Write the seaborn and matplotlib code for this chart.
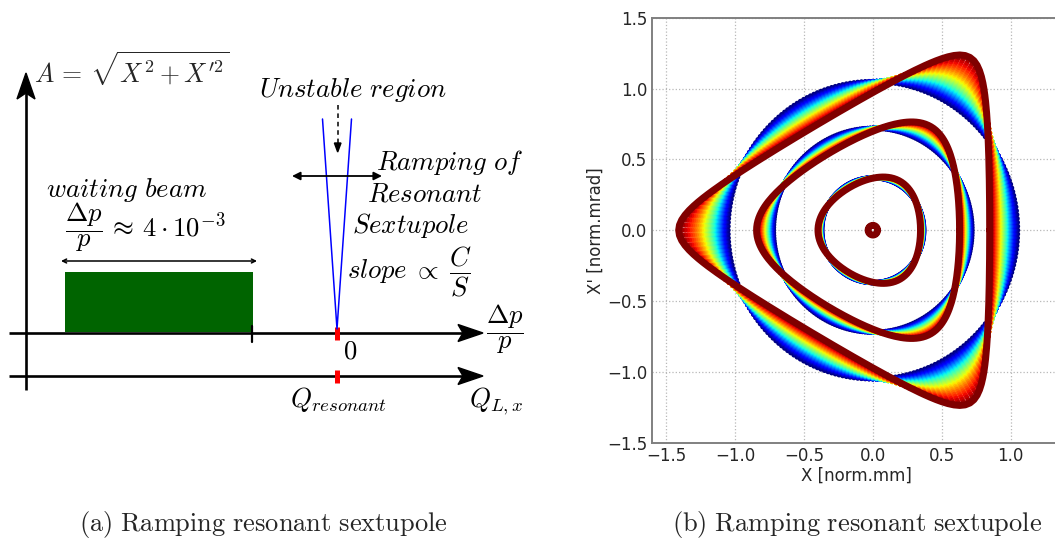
import numpy as np
import pandas as pd
import matplotlib
matplotlib.use("Agg")
import matplotlib.pyplot as plt
import seaborn as sns
from matplotlib.patches import Polygon, Rectangle

# ---------------- data: right panel (phase space) ----------------
ring_radii = [0.034, 0.37, 0.72, 1.05]      # unperturbed amplitudes (blue circles)
sextupole_final = 0.372                       # final normalised sextupole strength
ramp_shape = 0.8                              # ramp profile exponent (strength vs. time)
n_ramp_steps = 30                             # number of ramp snapshots
n_points = 240                                # particles per ring
x_ticks = [-1.5, -1.0, -0.5, 0.0, 0.5, 1.0]
y_ticks = [-1.5, -1.0, -0.5, 0.0, 0.5, 1.0, 1.5]
x_label = "X [norm.mm]"
y_label = "X' [norm.mrad]"
caption_a = r"$\mathrm{(a)\ Ramping\ resonant\ sextupole}$"
caption_b = r"$\mathrm{(b)\ Ramping\ resonant\ sextupole}$"

# ---------------- data: left panel (schematic, diagram units) ----------------
dp_axis_y = 333
q_axis_y = 376
axis_x = (9, 483)
vert_axis_x = 26
vert_axis_y = (390, 73)
beam_x = (65, 253)
beam_top = 272
beam_tick_x = 252
resonance_x = 337
unstable_top = 119
unstable_halfwidth = 14.5


def level_radius(u, c, h):
    """smallest positive root of r^2 + c*u*r^3 = h (Kobayashi invariant)"""
    cu = c * u
    hi = np.where(cu < 0, 2.0 / (3.0 * np.maximum(-cu, 1e-9)), np.sqrt(h) * np.ones_like(cu))
    hi = np.minimum(hi, 10.0)
    lo = np.zeros_like(hi)
    for _ in range(45):
        mid = 0.5 * (lo + hi)
        below = mid ** 2 + cu * mid ** 3 < h
        lo = np.where(below, mid, lo)
        hi = np.where(below, hi, mid)
    return 0.5 * (lo + hi)


def ring_family(r0, strengths, theta):
    u = np.cos(3 * theta)[None, :]
    c = strengths[:, None]
    hsep = np.where(c > 0, 4.0 / (27.0 * np.maximum(c, 1e-9) ** 2), 1e9)
    lo = np.zeros_like(c)
    hi = np.minimum(hsep * (1 - 1e-9), r0 ** 2)
    for _ in range(40):
        mid = 0.5 * (lo + hi)
        r = level_radius(u, c, mid)
        small = (r ** 2).mean(axis=1, keepdims=True) < r0 ** 2
        lo = np.where(small, mid, lo)
        hi = np.where(small, hi, mid)
    return level_radius(u, c, 0.5 * (lo + hi))


theta = np.linspace(0, 2 * np.pi, n_points, endpoint=False)
strengths = sextupole_final * np.linspace(0, 1, n_ramp_steps + 1) ** ramp_shape

frames = []
finals = []
for r0 in ring_radii:
    R = ring_family(r0, strengths, theta)
    for k in range(n_ramp_steps):
        frames.append(pd.DataFrame({"X": R[k] * np.cos(theta),
                                    "Xp": R[k] * np.sin(theta),
                                    "step": k}))
    finals.append((R[-1] * np.cos(theta), R[-1] * np.sin(theta)))
df = pd.concat(frames).sort_values("step", kind="stable")

# ---------------- figure ----------------
sns.set_style("white")
plt.rcParams["mathtext.fontset"] = "cm"
plt.rcParams["font.family"] = ["DejaVu Sans"]

W, H = 1055, 542
fig = plt.figure(figsize=(W / 100, H / 100), dpi=100)

# ---- left schematic ----
ax0 = fig.add_axes([0, 0, 545 / W, 1])
ax0.set_xlim(0, 545)
ax0.set_ylim(H, 0)
ax0.axis("off")

lw_axis = 1.9
for yy in (dp_axis_y, q_axis_y):
    ax0.plot([axis_x[0], axis_x[1] - 20], [yy, yy], color="black", lw=lw_axis, solid_capstyle="butt")
    ax0.add_patch(Polygon([[axis_x[1], yy], [axis_x[1] - 25, yy - 8.5], [axis_x[1] - 20, yy],
                           [axis_x[1] - 25, yy + 8.5]], closed=True, color="black"))
ax0.plot([vert_axis_x, vert_axis_x], [vert_axis_y[0], vert_axis_y[1] + 20], color="black", lw=lw_axis,
         solid_capstyle="butt")
ax0.add_patch(Polygon([[vert_axis_x, vert_axis_y[1]], [vert_axis_x - 9, vert_axis_y[1] + 26],
                       [vert_axis_x, vert_axis_y[1] + 20], [vert_axis_x + 9, vert_axis_y[1] + 26]],
                      closed=True, color="black"))

# beam
ax0.add_patch(Rectangle((beam_x[0], beam_top), beam_x[1] - beam_x[0], dp_axis_y - 1.5 - beam_top,
                        facecolor="#006400", edgecolor="none"))
ax0.plot([beam_tick_x, beam_tick_x], [dp_axis_y - 7, dp_axis_y + 9], color="black", lw=1.6)
ax0.annotate("", xy=(beam_x[0] - 4, 261), xytext=(beam_x[1] + 4, 261),
             arrowprops=dict(arrowstyle="<->", color="black", lw=1.1, mutation_scale=7,
                             shrinkA=0, shrinkB=0))

# resonance marks
for yy in (dp_axis_y, q_axis_y):
    ax0.plot([resonance_x, resonance_x], [yy - 6, yy + 7], color="red", lw=3.6, solid_capstyle="butt")

# unstable region (blue lines)
ax0.plot([resonance_x - unstable_halfwidth, resonance_x, resonance_x + unstable_halfwidth],
         [unstable_top, dp_axis_y - 4, unstable_top], color="blue", lw=1.1)

# dashed arrow
ax0.plot([resonance_x + 0.7, resonance_x + 0.7], [105, 144], color="black", lw=1.1, ls=(0, (3, 2.5)))
ax0.add_patch(Polygon([[resonance_x + 0.7, 152], [resonance_x - 2.6, 143], [resonance_x + 4, 143]],
                      closed=True, color="black"))

# ramping double arrow
ax0.annotate("", xy=(292, 176), xytext=(382, 176),
             arrowprops=dict(arrowstyle="<|-|>", color="black", lw=1.3, mutation_scale=12,
                             shrinkA=0, shrinkB=0))

fs = 19.3
tkw = dict(fontsize=fs, ha="left", va="baseline", color="black")
ax0.text(34, 83.5, r"$A\,=\,\sqrt{X^2+X^{\prime 2}}$", fontsize=18.6, ha="left", va="baseline")
ax0.text(259, 96.5, r"$Unstable\ region$", **tkw)
ax0.text(376, 170, r"$Ramping\ of$", **tkw)
ax0.text(367, 201.5, r"$Resonant$", **tkw)
ax0.text(352, 233.5, r"$Sextupole$", **tkw)
ax0.text(347, 278, r"$slope\;\propto\;\dfrac{C}{S}$", **tkw)
ax0.text(46, 196.5, r"$waiting\ beam$", **tkw)
ax0.text(65, 237, r"$\dfrac{\Delta p}{p}\,\approx\,4\cdot 10^{-3}$", **tkw)
ax0.text(343, 358.5, r"$0$", **tkw)
ax0.text(486, 339, r"$\dfrac{\Delta p}{p}$", **tkw)
ax0.text(290, 406.5, r"$Q_{resonant}$", **tkw)
ax0.text(469, 406.5, r"$Q_{L,x}$", **tkw)

# ---- right phase-space plot ----
left, right, top, bottom = 651.7, 1055 + 6, 17.7, 442.7
ax = fig.add_axes([left / W, 1 - bottom / H, (right - left) / W, (bottom - top) / H])
xmin, xmax = -1.604, 1.0 + (right - 1010.7) / 137.9
ax.set_xlim(xmin, xmax)
ax.set_ylim(-1.5, 1.5)
ax.set_axisbelow(True)
ax.grid(True, color="#b8b8b8", ls=":", lw=0.9)

jet = plt.get_cmap("jet")
sns.scatterplot(data=df, x="X", y="Xp", hue="step", palette=jet, hue_norm=(0, n_ramp_steps),
                s=14, linewidth=0, legend=False, ax=ax, zorder=3)
final_color = jet(1.0)
for fx, fy in finals:
    ax.plot(np.append(fx, fx[0]), np.append(fy, fy[0]), color=final_color, lw=5.0, zorder=4,
            solid_joinstyle="round")

ax.set_xticks(x_ticks)
ax.set_yticks(y_ticks)
ax.set_xticklabels([f"{v:.1f}".replace("-", "\u2212") for v in x_ticks])
ax.set_yticklabels([f"{v:.1f}".replace("-", "\u2212") for v in y_ticks])
ax.tick_params(direction="in", length=4, width=1, color="#808080", labelsize=12, pad=3)
for side in ("left", "bottom", "top"):
    ax.spines[side].set_color("#808080")
    ax.spines[side].set_linewidth(1.4)
ax.spines["right"].set_visible(False)
ax.set_xlabel(x_label, fontsize=12, labelpad=1)
ax.set_ylabel(y_label, fontsize=12, labelpad=2)

fig.text(263.5 / W, 1 - 531.5 / H, caption_a, ha="center", va="baseline", fontsize=19)
fig.text(857.5 / W, 1 - 531.5 / H, caption_b, ha="center", va="baseline", fontsize=19)

fig.savefig("out.png", dpi=100)
